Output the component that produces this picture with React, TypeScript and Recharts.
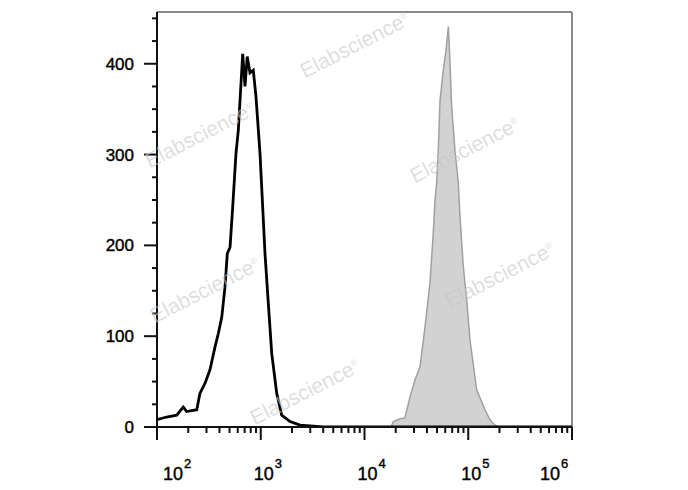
import React from "react";
import {
  ComposedChart,
  Area,
  Line,
  XAxis,
  YAxis,
  ReferenceLine,
} from "recharts";

// black histogram (isotype / unstained), fluorescence intensity vs count
const controlX = [
  100, 124, 155, 179, 193, 242, 259, 290, 324, 362, 390, 421, 452, 476, 506,
  537, 577, 608, 670, 705, 741, 787, 847, 899, 984, 1099, 1183, 1276, 1426,
  1592, 1914, 2388, 4000, 1000000,
];
const controlY = [
  8, 11, 13, 22, 17, 19, 37, 48, 63, 88, 103, 121, 154, 191, 198, 243, 301,
  327, 411, 375, 408, 390, 393, 364, 301, 191, 136, 81, 37, 13, 6, 2, 0, 0,
];

// grey filled histogram (stained)
const stainedX = [
  100, 18000, 18967, 21980, 24550, 27460, 30690, 34290, 38300, 42790, 46030,
  47840, 49660, 51420, 53450, 57540, 61100, 64300, 65940, 69180, 74440, 80140,
  83200, 89560, 96550, 103900, 120600, 144900, 162100, 181300, 200000, 1000000,
];
const stainedY = [
  0, 0, 6, 9, 10, 33, 52, 66, 110, 159, 214, 250, 269, 305, 360, 393, 415,
  441, 415, 353, 305, 269, 232, 177, 140, 96, 41, 19, 8, 2, 0, 0,
];

const yTicks = [0, 25, 50, 75, 100, 125, 150, 175, 200, 225, 250, 275, 300, 325, 350, 375, 400, 425, 450];
const yLabels = [0, 100, 200, 300, 400];
const decades = [100, 1000, 10000, 100000, 1000000];
const decadeExp = ["2", "3", "4", "5", "6"];
const minorMult = [2, 3, 4, 5, 6, 7, 8, 9];

const xTicks: number[] = [];
decades.forEach((d, i) => {
  xTicks.push(d);
  if (i < decades.length - 1) minorMult.forEach((m) => xTicks.push(d * m));
});

const controlData = controlX.map((x, i) => ({ x, y: controlY[i] }));
const stainedData = stainedX.map((x, i) => ({ x, y: stainedY[i] }));

const watermarks = [
  { left: 355, top: 45 },
  { left: 200, top: 135 },
  { left: 465, top: 150 },
  { left: 205, top: 290 },
  { left: 500, top: 275 },
  { left: 305, top: 392 },
];

const FONT = "'Liberation Sans', Arial, sans-serif";

const YTick = (props: any) => {
  const { x, y, payload } = props;
  const major = yLabels.includes(payload.value);
  return (
    <g>
      <line x1={x - (major ? 13 : 5)} x2={x} y1={y} y2={y} stroke="#111" strokeWidth={2} />
      {major && (
        <text x={x - 23} y={y + 6} textAnchor="end" fontSize={17} fill="#000" stroke="#000" strokeWidth={0.4} fontFamily={FONT}>
          {payload.value}
        </text>
      )}
    </g>
  );
};

const XTick = (props: any) => {
  const { x, y, payload } = props;
  const idx = decades.indexOf(payload.value);
  const major = idx >= 0;
  let dx = 3;
  if (idx === 0) dx = 16;
  if (idx === decades.length - 1) dx = -22;
  return (
    <g>
      <line x1={x} x2={x} y1={y} y2={y + (major ? 13 : 6)} stroke="#111" strokeWidth={2} />
      {major && (
        <g fontFamily={FONT} fill="#000" stroke="#000" strokeWidth={0.4}>
          <text x={x + dx} y={y + 53} textAnchor="middle" fontSize={18}>
            10
          </text>
          <text x={x + dx + 11} y={y + 41} textAnchor="start" fontSize={13}>
            {decadeExp[idx]}
          </text>
        </g>
      )}
    </g>
  );
};

export default function App() {
  return (
    <div style={{ position: "absolute", left: 0, top: 0, width: 688, height: 490, background: "#fff" }}>
      <ComposedChart
        width={688}
        height={490}
        margin={{ top: 12, right: 116, bottom: 0, left: 0 }}
      >
        <XAxis
          dataKey="x"
          type="number"
          scale="log"
          domain={[100, 1000000]}
          allowDataOverflow
          ticks={xTicks}
          interval={0}
          tickSize={0}
          tickMargin={0}
          tickLine={false}
          height={63}
          axisLine={{ stroke: "#111", strokeWidth: 2 }}
          tick={<XTick />}
        />
        <YAxis
          type="number"
          domain={[0, 457]}
          allowDataOverflow
          ticks={yTicks}
          interval={0}
          tickSize={0}
          tickMargin={0}
          tickLine={false}
          width={157}
          axisLine={{ stroke: "#111", strokeWidth: 2 }}
          tick={<YTick />}
        />
        <ReferenceLine y={457} stroke="#8a8a8a" strokeWidth={2} />
        <ReferenceLine x={1000000} stroke="#8a8a8a" strokeWidth={2} />
        <Area
          data={stainedData}
          dataKey="y"
          type="linear"
          stroke="#a0a0a0"
          strokeWidth={1.5}
          fill="#d2d2d2"
          fillOpacity={1}
          isAnimationActive={false}
          dot={false}
          activeDot={false}
        />
        <Line
          data={controlData}
          dataKey="y"
          type="linear"
          stroke="#000"
          strokeWidth={2.8}
          dot={false}
          activeDot={false}
          isAnimationActive={false}
        />
      </ComposedChart>
      {watermarks.map((w, i) => (
        <div
          key={i}
          style={{
            position: "absolute",
            left: w.left - 70,
            top: w.top - 12,
            width: 140,
            textAlign: "center",
            fontFamily: FONT,
            fontSize: 21,
            color: "rgba(200,200,200,0.6)",
            transform: "rotate(-27deg)",
            pointerEvents: "none",
          }}
        >
          Elabscience<sup style={{ fontSize: 9 }}>®</sup>
        </div>
      ))}
    </div>
  );
}
